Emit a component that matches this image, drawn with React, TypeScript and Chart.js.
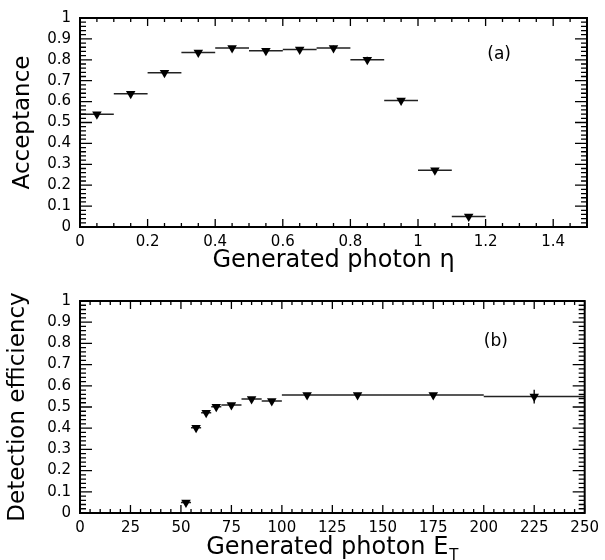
import React, { useEffect, useRef } from "react";
import { Chart, registerables } from "chart.js";

Chart.register(...registerables);

const FONT = '"DejaVu Sans", sans-serif';

// ---------- Panel (a): acceptance vs generated photon eta ----------
const ETA_CENTERS = [0.05, 0.15, 0.25, 0.35, 0.45, 0.55, 0.65, 0.75, 0.85, 0.95, 1.05, 1.15];
const ETA_HALF_WIDTH = [0.05, 0.05, 0.05, 0.05, 0.05, 0.05, 0.05, 0.05, 0.05, 0.05, 0.05, 0.05];
const ACCEPTANCE = [0.54, 0.638, 0.738, 0.835, 0.856, 0.843, 0.849, 0.856, 0.8, 0.605, 0.272, 0.05];
const ACCEPTANCE_ERR = [0.008, 0.008, 0.008, 0.01, 0.01, 0.01, 0.01, 0.012, 0.014, 0.012, 0.01, 0.006];
const ETA_TICKS = [0, 0.2, 0.4, 0.6, 0.8, 1.0, 1.2, 1.4];

// ---------- Panel (b): detection efficiency vs generated photon E_T ----------
const ET_CENTERS = [52.5, 57.5, 62.5, 67.5, 75, 85, 95, 112.5, 137.5, 175, 225];
const ET_LOW = [50, 55, 60, 65, 70, 80, 90, 100, 125, 150, 200];
const ET_HIGH = [55, 60, 65, 70, 80, 90, 100, 125, 150, 200, 250];
const EFFICIENCY = [0.05, 0.402, 0.473, 0.501, 0.509, 0.538, 0.528, 0.557, 0.557, 0.557, 0.549];
const EFFICIENCY_ERR = [0.008, 0.01, 0.01, 0.01, 0.008, 0.008, 0.008, 0.006, 0.006, 0.008, 0.032];
const ET_TICKS = [0, 25, 50, 75, 100, 125, 150, 175, 200, 225, 250];

const Y_TICKS = [0, 0.1, 0.2, 0.3, 0.4, 0.5, 0.6, 0.7, 0.8, 0.9, 1];

type PanelCfg = {
  xs: number[];
  lows: number[];
  highs: number[];
  ys: number[];
  errs: number[];
  xMin: number;
  xMax: number;
  xTicks: number[];
  xMinorStep: number;
  yTitle: string;
  yTitlePad: number;
  xTitle: string | null;
  xTitleMain?: string;
  xTitleSub?: string;
  padTop: number;
  xAxisHeight: number;
  label: string;
  labelX: number;
  labelY: number;
};

function fmtY(v: number) {
  if (Math.abs(v) < 1e-9) return "0";
  if (Math.abs(v - 1) < 1e-9) return "1";
  return v.toFixed(1);
}
function fmtX(v: number) {
  return String(Math.round(v * 1000) / 1000);
}

function errorBarPlugin(cfg: PanelCfg) {
  return {
    id: "errbars",
    beforeDatasetsDraw(chart: any) {
      const { ctx, scales } = chart;
      const sx = scales.x;
      const sy = scales.y;
      ctx.save();
      ctx.strokeStyle = "#222";
      ctx.lineWidth = 1.5;
      ctx.beginPath();
      for (let i = 0; i < cfg.xs.length; i++) {
        const py = sy.getPixelForValue(cfg.ys[i]);
        const px = sx.getPixelForValue(cfg.xs[i]);
        ctx.moveTo(sx.getPixelForValue(cfg.lows[i]), py);
        ctx.lineTo(sx.getPixelForValue(cfg.highs[i]), py);
        ctx.moveTo(px, sy.getPixelForValue(cfg.ys[i] - cfg.errs[i]));
        ctx.lineTo(px, sy.getPixelForValue(cfg.ys[i] + cfg.errs[i]));
      }
      ctx.stroke();
      ctx.restore();
    },
  };
}

function framePlugin(cfg: PanelCfg) {
  return {
    id: "frame",
    afterDraw(chart: any) {
      const { ctx, chartArea: a, scales } = chart;
      const sx = scales.x;
      const sy = scales.y;
      ctx.save();
      ctx.strokeStyle = "#000";
      ctx.lineWidth = 1.3;
      ctx.beginPath();
      const nx = Math.round((cfg.xMax - cfg.xMin) / cfg.xMinorStep);
      for (let i = 0; i <= nx; i++) {
        const v = cfg.xMin + i * cfg.xMinorStep;
        const major = cfg.xTicks.some((t) => Math.abs(t - v) < cfg.xMinorStep / 10);
        const L = major ? 8 : 4;
        const px = sx.getPixelForValue(v);
        ctx.moveTo(px, a.bottom);
        ctx.lineTo(px, a.bottom - L);
        ctx.moveTo(px, a.top);
        ctx.lineTo(px, a.top + L);
      }
      for (let i = 0; i <= 50; i++) {
        const v = i * 0.02;
        const major = i % 5 === 0;
        const L = major ? 12 : 6;
        const py = sy.getPixelForValue(v);
        ctx.moveTo(a.left, py);
        ctx.lineTo(a.left + L, py);
        ctx.moveTo(a.right, py);
        ctx.lineTo(a.right - L, py);
      }
      ctx.stroke();
      ctx.lineWidth = 2;
      ctx.strokeRect(a.left, a.top, a.right - a.left, a.bottom - a.top);

      // panel label
      ctx.fillStyle = "#000";
      ctx.font = `17px ${FONT}`;
      ctx.textAlign = "center";
      ctx.textBaseline = "middle";
      ctx.fillText(cfg.label, sx.getPixelForValue(cfg.labelX), sy.getPixelForValue(cfg.labelY));

      // x title with subscript (panel b)
      if (cfg.xTitleMain) {
        const main = cfg.xTitleMain;
        const sub = cfg.xTitleSub || "";
        ctx.font = `24px ${FONT}`;
        const w1 = ctx.measureText(main).width;
        ctx.font = `15px ${FONT}`;
        const w2 = ctx.measureText(sub).width;
        const cx = (a.left + a.right) / 2;
        const x0 = cx - (w1 + w2 + 1) / 2;
        const base = chart.height - 6;
        ctx.textAlign = "left";
        ctx.textBaseline = "alphabetic";
        ctx.font = `24px ${FONT}`;
        ctx.fillText(main, x0, base);
        ctx.font = `15px ${FONT}`;
        ctx.fillText(sub, x0 + w1 + 1, base + 6);
      }
      ctx.restore();
    },
  };
}

function makeChart(canvas: HTMLCanvasElement, cfg: PanelCfg) {
  return new Chart(canvas, {
    type: "scatter",
    data: {
      datasets: [
        {
          data: cfg.xs.map((x, i) => ({ x, y: cfg.ys[i] })),
          pointStyle: "triangle",
          rotation: 180,
          pointRadius: 5.5,
          backgroundColor: "#000",
          borderColor: "#000",
          borderWidth: 0,
          showLine: false,
        } as any,
      ],
    },
    options: {
      animation: false,
      responsive: false,
      maintainAspectRatio: false,
      events: [],
      layout: { padding: { top: cfg.padTop, right: 18, left: 0, bottom: 0 } },
      plugins: {
        legend: { display: false },
        tooltip: { enabled: false },
      },
      scales: {
        x: {
          type: "linear",
          min: cfg.xMin,
          max: cfg.xMax,
          grid: { display: false, drawTicks: false },
          border: { display: false },
          afterBuildTicks: (scale: any) => {
            scale.ticks = cfg.xTicks.map((v) => ({ value: v }));
          },
          afterFit: (scale: any) => {
            scale.height = cfg.xAxisHeight;
          },
          ticks: {
            autoSkip: false,
            maxRotation: 0,
            padding: 6,
            color: "#000",
            font: { family: FONT, size: 15 },
            callback: (v: any) => fmtX(Number(v)),
          },
          title: cfg.xTitle
            ? {
                display: true,
                text: cfg.xTitle,
                color: "#000",
                font: { family: FONT, size: 24 },
                padding: { top: 0, bottom: 5 },
              }
            : { display: false },
        },
        y: {
          type: "linear",
          min: 0,
          max: 1,
          grid: { display: false, drawTicks: false },
          border: { display: false },
          afterBuildTicks: (scale: any) => {
            scale.ticks = Y_TICKS.map((v) => ({ value: v }));
          },
          afterFit: (scale: any) => {
            scale.width = 80;
          },
          ticks: {
            autoSkip: false,
            padding: 9,
            color: "#000",
            font: { family: FONT, size: 15 },
            callback: (v: any) => fmtY(Number(v)),
          },
          title: {
            display: true,
            text: cfg.yTitle,
            color: "#000",
            font: { family: FONT, size: 23 },
            padding: { top: cfg.yTitlePad, bottom: 0 },
          },
        },
      },
    } as any,
    plugins: [errorBarPlugin(cfg), framePlugin(cfg)],
  });
}

export default function App() {
  const topRef = useRef<HTMLCanvasElement | null>(null);
  const botRef = useRef<HTMLCanvasElement | null>(null);

  useEffect(() => {
    const cfgA: PanelCfg = {
      xs: ETA_CENTERS,
      lows: ETA_CENTERS.map((c, i) => c - ETA_HALF_WIDTH[i]),
      highs: ETA_CENTERS.map((c, i) => c + ETA_HALF_WIDTH[i]),
      ys: ACCEPTANCE,
      errs: ACCEPTANCE_ERR,
      xMin: 0,
      xMax: 1.5,
      xTicks: ETA_TICKS,
      xMinorStep: 0.05,
      yTitle: "Acceptance",
      yTitlePad: 9,
      xTitle: "Generated photon η",
      padTop: 14,
      xAxisHeight: 53,
      label: "(a)",
      labelX: 1.24,
      labelY: 0.826,
    };
    const cfgB: PanelCfg = {
      xs: ET_CENTERS,
      lows: ET_LOW,
      highs: ET_HIGH,
      ys: EFFICIENCY,
      errs: EFFICIENCY_ERR,
      xMin: 0,
      xMax: 250,
      xTicks: ET_TICKS,
      xMinorStep: 5,
      yTitle: "Detection efficiency",
      yTitlePad: 4,
      xTitle: null,
      xTitleMain: "Generated photon E",
      xTitleSub: "T",
      padTop: 21,
      xAxisHeight: 47,
      label: "(b)",
      labelX: 206,
      labelY: 0.807,
    };
    const c1 = makeChart(topRef.current!, cfgA);
    const c2 = makeChart(botRef.current!, cfgB);
    return () => {
      c1.destroy();
      c2.destroy();
    };
  }, []);

  return (
    <div style={{ position: "absolute", left: 0, top: 0, width: 605, height: 560, background: "#fff" }}>
      <canvas
        ref={topRef}
        width={605}
        height={280}
        style={{ position: "absolute", left: 0, top: 0, width: 605, height: 280, display: "block" }}
      />
      <canvas
        ref={botRef}
        width={605}
        height={280}
        style={{ position: "absolute", left: 0, top: 280, width: 605, height: 280, display: "block" }}
      />
    </div>
  );
}
